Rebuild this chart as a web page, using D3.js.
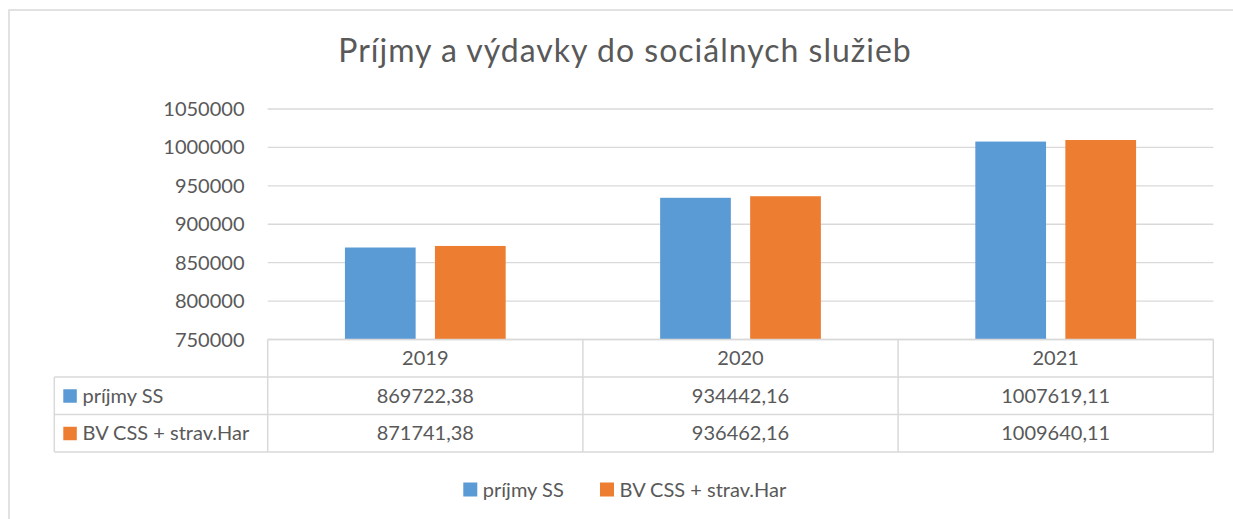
<!DOCTYPE html>
<html>
  <head>
    <meta charset="utf-8">
    <title>Príjmy a výdavky do sociálnych služieb</title>
    <style>
      body { margin: 0; background: #fff; }
      svg text { font-family: Lato, "Open Sans", sans-serif; fill: #595959; }
    </style>
  </head>
  <body>
    <div id="vis"></div>
    <script src="https://d3js.org/d3.v7.min.js"></script>
    <script>
    // data
    let years = ["2019", "2020", "2021"];
    let series = ["príjmy SS", "BV CSS + strav.Har"];
    let prijmy = [869722.38, 934442.16, 1007619.11];
    let vydavky = [871741.38, 936462.16, 1009640.11];
    let prijmyLabels = ["869722,38", "934442,16", "1007619,11"];
    let vydavkyLabels = ["871741,38", "936462,16", "1009640,11"];
    let yTicks = [750000, 800000, 850000, 900000, 950000, 1000000, 1050000];
    let colors = ["#5B9BD5", "#ED7D31"];

    let w = 1233, h = 519;
    let plotLeft = 267.7, plotRight = 1213.3, plotTop = 109, plotBottom = 339.5;
    let tableLeft = 54.3;
    let rowH = 37.5;

    let svg = d3.select("#vis").append("svg")
                .attr("width", w)
                .attr("height", h);

    // chart area border
    svg.append("rect").attr("x", 9).attr("y", 10)
       .attr("width", w + 20).attr("height", h + 20)
       .attr("fill", "none").attr("stroke", "#D9D9D9").attr("stroke-width", 1.5);

    svg.append("text")
       .attr("x", 625).attr("y", 62)
       .attr("text-anchor", "middle")
       .style("font-size", "32px")
       .style("letter-spacing", "1px")
       .text("Príjmy a výdavky do sociálnych služieb");

    let y = d3.scaleLinear().domain([750000, 1050000]).range([plotBottom, plotTop]);
    let x0 = d3.scaleBand().domain(years).range([plotLeft, plotRight])
               .paddingInner(0.49).paddingOuter(0.245);
    let x1 = d3.scaleBand().domain(series).range([0, x0.bandwidth()])
               .paddingInner(0.2144);

    // gridlines
    svg.append("g").selectAll("line").data(yTicks).enter().append("line")
       .attr("x1", plotLeft).attr("x2", plotRight)
       .attr("y1", d => y(d)).attr("y2", d => y(d))
       .attr("stroke", "#D9D9D9").attr("stroke-width", 1.3);

    // y labels
    svg.append("g").selectAll("text").data(yTicks).enter().append("text")
       .attr("x", 244.5).attr("y", d => y(d) + 7)
       .attr("text-anchor", "end")
       .style("font-size", "20px")
       .text(d => d);

    // bars
    let values = [prijmy, vydavky];
    series.forEach(function(s, si) {
      svg.append("g").selectAll("rect").data(values[si]).enter().append("rect")
         .attr("x", (d, i) => x0(years[i]) + x1(s))
         .attr("width", x1.bandwidth())
         .attr("y", d => y(d))
         .attr("height", d => plotBottom - y(d))
         .attr("fill", colors[si]);
    });

    // data table
    let step = x0.step();
    let colEdges = years.map(yr => x0(yr) - x0.paddingInner() * step / 2);
    colEdges.push(plotRight);
    let tg = svg.append("g").attr("stroke", "#D9D9D9").attr("stroke-width", 1.5).attr("fill", "none");
    tg.append("line").attr("x1", plotLeft).attr("x2", plotRight).attr("y1", plotBottom).attr("y2", plotBottom);
    [0, 1, 2].forEach(function(r) {
      let yy = plotBottom + rowH * (r + 1);
      tg.append("line").attr("x1", tableLeft).attr("x2", plotRight).attr("y1", yy).attr("y2", yy);
    });
    colEdges.forEach(function(cx) {
      tg.append("line").attr("x1", cx).attr("x2", cx).attr("y1", plotBottom).attr("y2", plotBottom + rowH * 3);
    });
    tg.append("line").attr("x1", tableLeft).attr("x2", tableLeft)
      .attr("y1", plotBottom + rowH).attr("y2", plotBottom + rowH * 3);

    // year header
    svg.append("g").selectAll("text").data(years).enter().append("text")
       .attr("x", d => x0(d) + x0.bandwidth() / 2)
       .attr("y", plotBottom + rowH / 2 + 7)
       .attr("text-anchor", "middle")
       .style("font-size", "20px")
       .text(d => d);

    let rowLabels = [prijmyLabels, vydavkyLabels];
    rowLabels.forEach(function(labels, ri) {
      let cy = plotBottom + rowH * (ri + 1) + rowH / 2;
      svg.append("g").selectAll("text").data(labels).enter().append("text")
         .attr("x", (d, i) => x0(years[i]) + x0.bandwidth() / 2)
         .attr("y", cy + 7)
         .attr("text-anchor", "middle")
         .style("font-size", "20px")
         .text(d => d);
      svg.append("rect").attr("x", 63.3).attr("y", cy - 6.5)
         .attr("width", 13.5).attr("height", 13.5).attr("fill", colors[ri]);
      svg.append("text").attr("x", 82.5).attr("y", cy + 7)
         .style("font-size", "20px").text(series[ri]);
    });

    // legend
    let legendX = [463.3, 600];
    series.forEach(function(s, i) {
      svg.append("rect").attr("x", legendX[i]).attr("y", 482.5)
         .attr("width", 14).attr("height", 14).attr("fill", colors[i]);
      svg.append("text").attr("x", legendX[i] + 19.5).attr("y", 496.5)
         .style("font-size", "20px").text(s);
    });
    </script>
  </body>
</html>
